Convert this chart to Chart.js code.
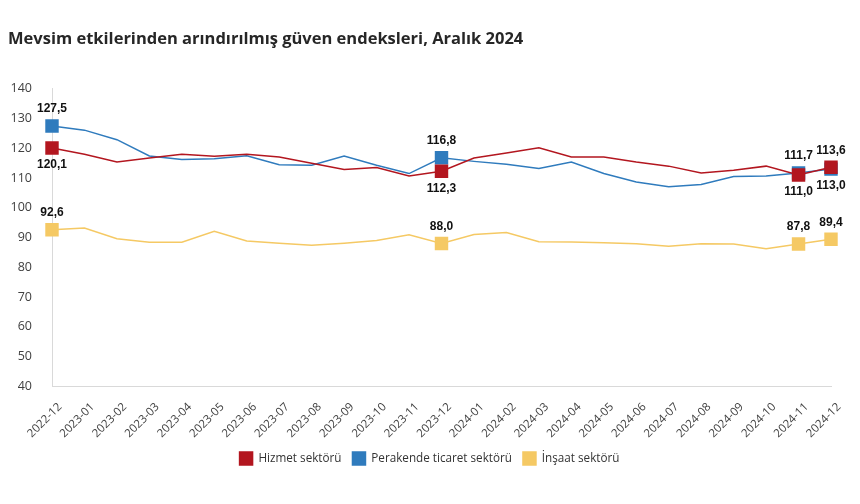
<!DOCTYPE html>
<html>
<head>
<meta charset="utf-8">
<script src="https://cdn.jsdelivr.net/npm/chart.js@4/dist/chart.umd.min.js"></script>
<style>
html, body { margin: 0; padding: 0; background: #fff; }
#wrap { width: 860px; height: 504px; }
</style>
</head>
<body>
<div id="wrap"><canvas id="myChart"></canvas></div>
<script>
var months = ['2022-12', '2023-01', '2023-02', '2023-03', '2023-04', '2023-05', '2023-06', '2023-07', '2023-08', '2023-09', '2023-10', '2023-11', '2023-12',
	'2024-01', '2024-02', '2024-03', '2024-04', '2024-05', '2024-06', '2024-07', '2024-08', '2024-09', '2024-10', '2024-11', '2024-12']
var hizmet = [120.1, 118.0, 115.4, 116.7, 118.0, 117.3, 118.0, 117.1, 115.0, 112.9, 113.5, 110.7, 112.3,
	116.7, 118.4, 120.2, 117.1, 117.1, 115.4, 114.0, 111.7, 112.6, 114.0, 111.0, 113.6]
var perakende = [127.5, 126.1, 122.9, 117.4, 116.2, 116.5, 117.5, 114.5, 114.3, 117.4, 114.3, 111.5, 116.8,
	115.6, 114.6, 113.2, 115.4, 111.5, 108.7, 107.1, 107.8, 110.5, 110.7, 111.7, 113.0]
var insaat = [92.6, 93.2, 89.6, 88.4, 88.4, 92.1, 88.8, 88.1, 87.4, 88.1, 89.0, 90.9, 88.0,
	91.0, 91.7, 88.6, 88.5, 88.2, 87.9, 87.1, 87.9, 87.8, 86.2, 87.8, 89.4]
var seriesNames = ['Hizmet sektörü', 'Perakende ticaret sektörü', 'İnşaat sektörü']
// points that get a marker and a value label
var markIdx = [0, 12, 23, 24]
// 1 = label above the point, -1 = below
var hizmetPos = [-1, -1, -1, 1]
var perakendePos = [1, 1, 1, -1]
var insaatPos = [1, 1, 1, 1]

var colors = ['#b3161f', '#2f7bbd', '#f5c964']

function pointSize(ctx) {
	return markIdx.indexOf(ctx.dataIndex) >= 0 ? 9.5 : 0
}

function makeSet(name, values, color, pos) {
	return {
		label: name,
		data: values,
		labelPos: pos,
		borderColor: color,
		backgroundColor: color,
		borderWidth: 1.5,
		tension: 0,
		pointStyle: 'rect',
		pointRadius: pointSize,
		pointHoverRadius: pointSize,
		pointBorderWidth: 0
	}
}

//value labels
var valueLabels = {
	id: 'valueLabels',
	afterLayout: function (chart) {
		// center legend on the whole canvas, not on the padded box
		chart.legend.left += 10
		chart.legend.right += 10
	},
	afterDatasetsDraw: function (chart) {
		var ctx = chart.ctx
		ctx.save()
		ctx.font = 'bold 12px "Liberation Sans", Arial, sans-serif'
		ctx.fillStyle = '#111'
		ctx.textAlign = 'center'
		ctx.textBaseline = 'middle'
		chart.data.datasets.forEach(function (ds, d) {
			var meta = chart.getDatasetMeta(d)
			markIdx.forEach(function (idx, k) {
				var pt = meta.data[idx]
				var txt = ds.data[idx].toFixed(1).replace('.', ',')
				ctx.fillText(txt, pt.x, pt.y - ds.labelPos[k] * 17)
			})
		})
		ctx.restore()
	}
}

var myChart = new Chart(document.getElementById('myChart'), {
	type: 'line',
	data: {
		labels: months,
		datasets: [
			makeSet(seriesNames[0], hizmet, colors[0], hizmetPos),
			makeSet(seriesNames[1], perakende, colors[1], perakendePos),
			makeSet(seriesNames[2], insaat, colors[2], insaatPos)
		]
	},
	options: {
		responsive: true,
		maintainAspectRatio: false,
		animation: false,
		layout: { padding: { left: 8, right: 29, top: 0, bottom: 29 } },
		plugins: {
			title: {
				display: true,
				text: 'Mevsim etkilerinden arındırılmış güven endeksleri, Aralık 2024',
				align: 'start',
				color: '#262626',
				font: { family: '"Open Sans", sans-serif', size: 16.5, weight: 'bold' },
				padding: { top: 29, bottom: 40 }
			},
			legend: {
				position: 'bottom',
				labels: {
					boxWidth: 13,
					boxHeight: 13,
					padding: 11,
					color: '#333',
					font: { family: '"Open Sans", sans-serif', size: 11.7 }
				}
			},
			tooltip: { enabled: false }
		},
		scales: {
			x: {
				offset: false,
				grid: { display: false },
				border: { display: true, color: '#d9d9d9', width: 1 },
				afterFit: function (scale) { scale.height -= 5.5 },
				ticks: {
					minRotation: 45,
					maxRotation: 45,
					autoSkip: false,
					padding: 6,
					labelOffset: 8,
					color: '#404040',
					font: { family: '"Open Sans", sans-serif', size: 11.5 }
				}
			},
			y: {
				min: 40,
				max: 140,
				grid: { display: false },
				border: { display: true, color: '#d9d9d9', width: 1 },
				afterFit: function (scale) { scale.width = 44 },
				ticks: {
					stepSize: 10,
					padding: 12,
					color: '#404040',
					font: { family: '"Open Sans", sans-serif', size: 12.5 }
				}
			}
		}
	},
	plugins: [valueLabels]
})
</script>
</body>
</html>
